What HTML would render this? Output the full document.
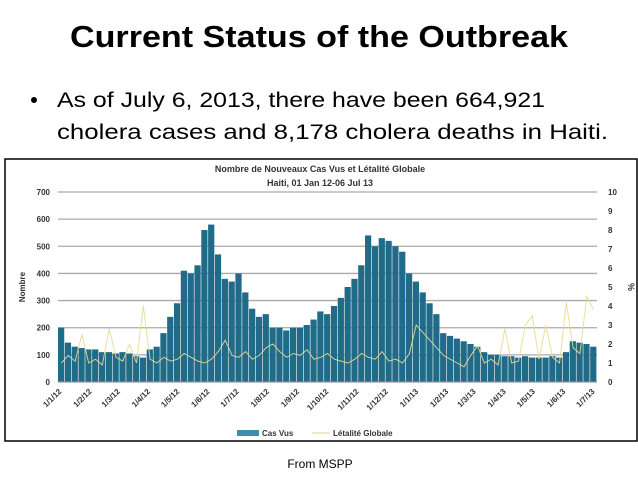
<!DOCTYPE html>
<html><head><meta charset="utf-8"><style>
html,body{margin:0;padding:0;background:#fff;}
svg{display:block;font-family:"Liberation Sans",sans-serif;}
</style></head><body>
<svg id="slide" width="638" height="479" viewBox="0 0 638 479" xmlns="http://www.w3.org/2000/svg">
<text x="70" y="47" font-size="31" font-weight="bold" textLength="498" lengthAdjust="spacingAndGlyphs">Current Status of the Outbreak</text>
<circle cx="34" cy="100" r="3" fill="#000"/>
<text x="57" y="107" font-size="21" textLength="488" lengthAdjust="spacingAndGlyphs">As of July 6, 2013, there have been 664,921</text>
<text x="57" y="139" font-size="21" textLength="551" lengthAdjust="spacingAndGlyphs">cholera cases and 8,178 cholera deaths in Haiti.</text>
<rect x="5" y="159" width="632" height="282" fill="#fff" stroke="#000" stroke-width="1.5"/>
<text x="320" y="172" font-size="9" font-weight="bold" fill="#333" text-anchor="middle">Nombre de Nouveaux Cas Vus et Létalité Globale</text>
<text x="320" y="186" font-size="9" font-weight="bold" fill="#333" text-anchor="middle">Haiti, 01 Jan 12-06 Jul 13</text>
<g id="grid"></g><g id="bars"></g><g id="line"></g><g id="axes"></g>
<text transform="translate(25,287) rotate(-90)" font-size="8" font-weight="bold" fill="#333" text-anchor="middle">Nombre</text>
<text transform="translate(628,287) rotate(90)" font-size="9" font-weight="bold" fill="#333" text-anchor="middle">%</text>
<rect x="237" y="430" width="22" height="6" fill="#3e8fae"/>
<text x="262" y="436" font-size="8" font-weight="bold" fill="#333">Cas Vus</text>
<line x1="312" y1="433" x2="330" y2="433" stroke="#efe4b0" stroke-width="1.5"/>
<text x="333" y="436" font-size="8" font-weight="bold" fill="#333">Létalité Globale</text>
<text x="320" y="468" font-size="12" text-anchor="middle">From MSPP</text>
</svg>
<script>
const cases=[200,145,130,125,120,120,110,110,105,110,105,95,90,120,130,180,240,290,410,400,430,560,580,470,380,370,400,330,270,240,250,200,200,190,200,200,210,230,260,250,280,310,350,380,430,540,500,530,520,500,480,400,370,330,290,250,180,170,160,150,140,130,110,100,100,95,95,90,95,90,90,90,95,90,110,150,145,140,130];
const lethality=[1.0,1.4,1.1,2.5,1.0,1.2,0.9,2.8,1.3,1.1,2.0,1.0,4.0,1.2,1.0,1.3,1.1,1.2,1.5,1.3,1.1,1.0,1.2,1.6,2.2,1.4,1.3,1.6,1.2,1.4,1.8,2.0,1.6,1.3,1.5,1.4,1.7,1.2,1.3,1.5,1.2,1.1,1.0,1.2,1.5,1.3,1.2,1.6,1.1,1.2,1.0,1.5,3.0,2.6,2.2,1.8,1.4,1.2,1.0,0.8,1.4,1.9,1.0,1.2,0.9,2.8,1.0,1.1,3.0,3.5,1.2,3.0,1.3,1.0,4.2,1.8,1.5,4.5,3.8];
const yTicks=[0,100,200,300,400,500,600,700];
const y2Ticks=[0,1,2,3,4,5,6,7,8,9,10];
const xLabels=["1/1/12","1/2/12","1/3/12","1/4/12","1/5/12","1/6/12","1/7/12","1/8/12","1/9/12","1/10/12","1/11/12","1/12/12","1/1/13","1/2/13","1/3/13","1/4/13","1/5/13","1/6/13","1/7/13"];
const xLabelDays=[0,31,60,91,121,152,182,213,244,274,305,335,366,397,425,456,486,517,547];
const NS="http://www.w3.org/2000/svg";
const X0=58,X1=597,Y0=382,Y1=192,DAYS=553;
const xs=d=>X0+d*(X1-X0)/DAYS;
const ys=v=>Y0-v*(Y0-Y1)/700;
const ys2=p=>Y0-p*(Y0-Y1)/10;
function mk(tag,attrs,parent){const e=document.createElementNS(NS,tag);for(const k in attrs)e.setAttribute(k,attrs[k]);document.getElementById(parent).appendChild(e);return e;}
yTicks.forEach(t=>{
  const g=mk('line',{x1:X0,x2:X1,y1:ys(t),y2:ys(t),stroke:'#aaa','stroke-width':1.3},'grid');
  
  
  const l=mk('text',{x:X0-8,y:ys(t)+3,'font-size':8,'font-weight':'bold',fill:'#333','text-anchor':'end'},'axes');
  l.textContent=t;
  
  
});
y2Ticks.forEach(t=>{
  const l=mk('text',{x:X1+11,y:ys2(t)+3,'font-size':8,'font-weight':'bold',fill:'#333'},'axes');
  l.textContent=t;
  
  
});
const bw=(X1-X0)/cases.length;
cases.forEach((v,i)=>{
  const b=mk('rect',{x:X0+i*bw,y:ys(v),width:bw-0.6,height:Y0-ys(v),fill:'#1f6b88'},'bars');
  
  
});
const pts=lethality.map((p,i)=>(X0+(i+0.5)*bw).toFixed(1)+','+ys2(p).toFixed(1)).join(' ');
const pl=mk('polyline',{points:pts,fill:'none',stroke:'#e8dc94','stroke-width':1,opacity:0.9},'line');


const ax=mk('line',{x1:X0,x2:X1,y1:Y0,y2:Y0,stroke:'#999','stroke-width':1},'axes');


xLabels.forEach((s,i)=>{
  const x=xs(xLabelDays[i]);
  const t=mk('text',{transform:`translate(${x+4},${Y0+10}) rotate(-45)`,'font-size':8,'font-weight':'bold',fill:'#333','text-anchor':'end'},'axes');
  t.textContent=s;
  
  
});
</script>
</body></html>
